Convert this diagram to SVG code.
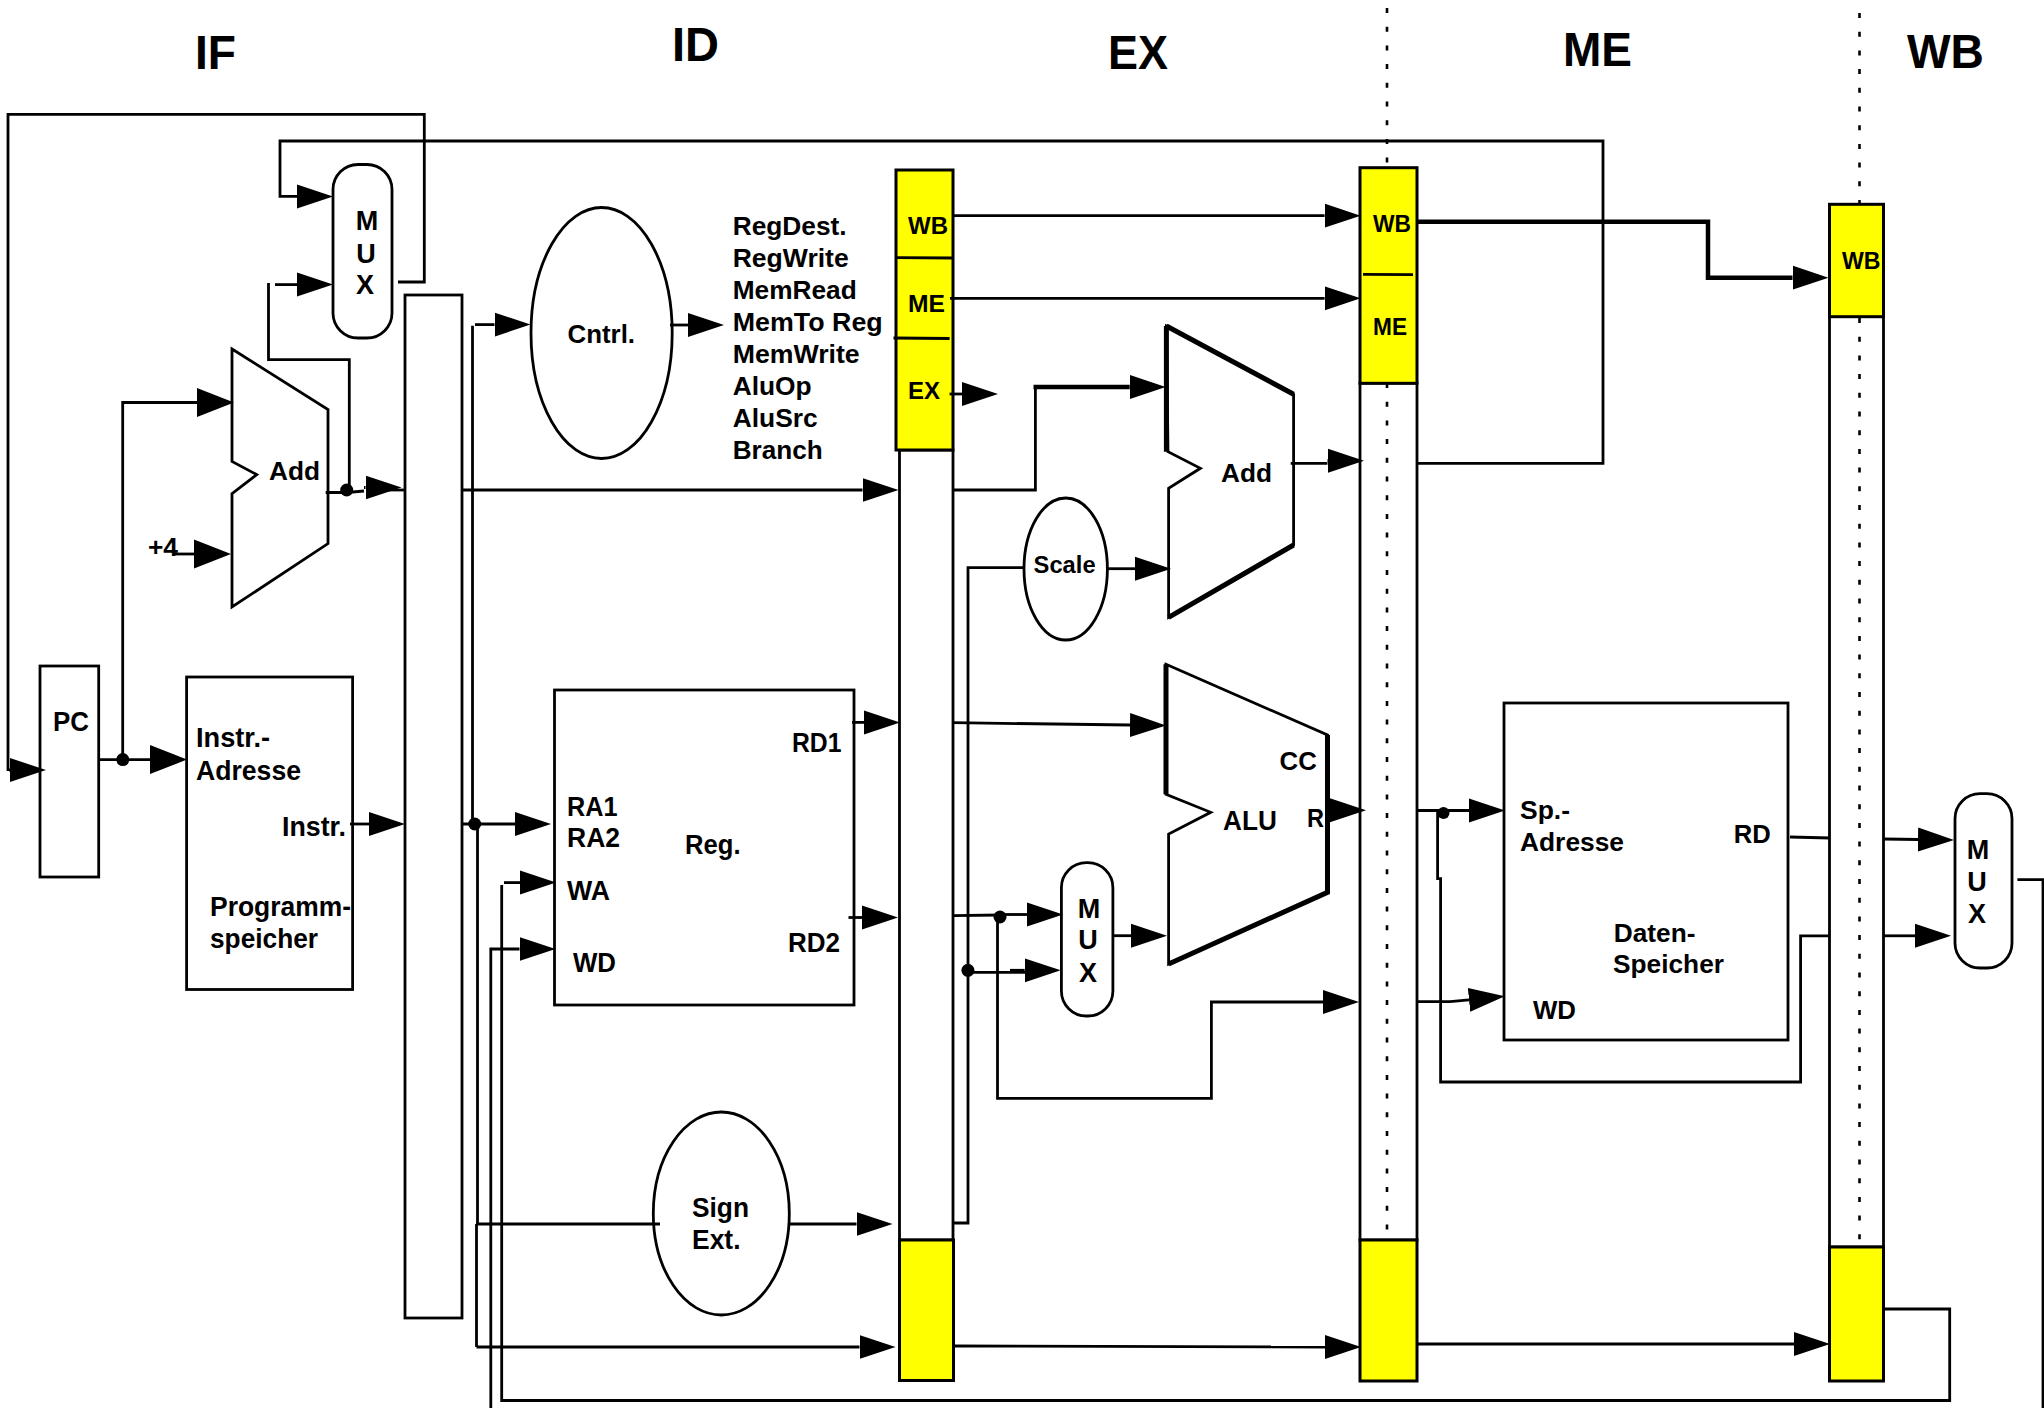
<svg xmlns="http://www.w3.org/2000/svg" width="2044" height="1408" viewBox="0 0 2044 1408">
<style>
.b{fill:#fff;stroke:#000;stroke-width:2.8}
.y{fill:#ff0;stroke:#000;stroke-width:3}
text{font-family:"Liberation Sans",Arial,sans-serif;font-weight:700;font-size:25px;fill:#000}
.h{font-size:47.500px}
.s{font-size:23px}
.t{font-size:27px}
#conn path,#conn line{fill:none;stroke:#000;stroke-width:2.8;stroke-linejoin:miter}
#conn .thick{stroke-width:4.5}
#conn .dot{stroke-width:2.6;stroke-dasharray:5 13.7}
#conn .a{marker-end:url(#ah)}
#conn .A{marker-end:url(#AH)}
#conn circle{fill:#000}
.edge{fill:none;stroke:#000;stroke-width:5}
</style>
<defs>
<marker id="ah" markerUnits="userSpaceOnUse" markerWidth="38" markerHeight="26" refX="0" refY="13" orient="auto"><path d="M0,1 L36,13 L0,25z" fill="#000"/></marker>
<marker id="AH" markerUnits="userSpaceOnUse" markerWidth="39" markerHeight="32" refX="0" refY="16" orient="auto"><path d="M0,1.500 L37,16 L0,30.500z" fill="#000"/></marker>
</defs>
<rect width="2044" height="1408" fill="#fff"/>

<g id="headers">
<text class="h" x="195" y="69" textLength="41" lengthAdjust="spacingAndGlyphs">IF</text>
<text class="h" x="672" y="61" textLength="47" lengthAdjust="spacingAndGlyphs">ID</text>
<text class="h" x="1108" y="69" textLength="60" lengthAdjust="spacingAndGlyphs">EX</text>
<text class="h" x="1563" y="66" textLength="69" lengthAdjust="spacingAndGlyphs">ME</text>
<text class="h" x="1907" y="68" textLength="77" lengthAdjust="spacingAndGlyphs">WB</text>
</g>

<g id="pc"><rect class="b" x="40" y="666" width="58.700" height="211"/>
<text class="t" x="53" y="730.500" textLength="36" lengthAdjust="spacingAndGlyphs">PC</text></g>

<g id="program-memory"><rect class="b" x="186.600" y="677" width="166" height="312.500"/>
<text class="t" x="196" y="746.500" textLength="74" lengthAdjust="spacingAndGlyphs">Instr.-</text>
<text class="t" x="196" y="779.500" textLength="105" lengthAdjust="spacingAndGlyphs">Adresse</text>
<text class="t" x="282" y="835.500" textLength="64" lengthAdjust="spacingAndGlyphs">Instr.</text>
<text class="t" x="210" y="915.500" textLength="141" lengthAdjust="spacingAndGlyphs">Programm-</text>
<text class="t" x="210" y="947.500" textLength="108" lengthAdjust="spacingAndGlyphs">speicher</text></g>

<g id="adder-if"><polygon class="b" points="232,349 328,409.600 328,543.600 232,607 232,493.600 256.700,474.600 232,461.400"/>
<text x="269" y="480" textLength="51" lengthAdjust="spacingAndGlyphs">Add</text></g>
<g id="plus4"><text x="148" y="556" textLength="30" lengthAdjust="spacingAndGlyphs">+4</text></g>

<g id="mux-pc"><rect class="b" x="333" y="164.500" width="59" height="173.500" rx="25" ry="25"/>
<text class="t" x="367" y="230" text-anchor="middle">M</text><text class="t" x="366" y="262.500" text-anchor="middle">U</text><text class="t" x="365" y="294" text-anchor="middle">X</text></g>

<g id="if-id"><rect class="b" x="405" y="295" width="57" height="1023"/></g>

<g id="control"><ellipse class="b" cx="601.600" cy="333" rx="70.600" ry="125.500"/>
<text x="567.500" y="342.500" textLength="67.500" lengthAdjust="spacingAndGlyphs">Cntrl.</text></g>
<g id="control-signals">
<text x="732.700" y="235" textLength="114" lengthAdjust="spacingAndGlyphs">RegDest.</text>
<text x="732.700" y="266.700" textLength="116" lengthAdjust="spacingAndGlyphs">RegWrite</text>
<text x="732.700" y="298.700" textLength="124" lengthAdjust="spacingAndGlyphs">MemRead</text>
<text x="732.700" y="330.700" textLength="150" lengthAdjust="spacingAndGlyphs">MemTo Reg</text>
<text x="732.700" y="362.800" textLength="127" lengthAdjust="spacingAndGlyphs">MemWrite</text>
<text x="732.700" y="394.800" textLength="79" lengthAdjust="spacingAndGlyphs">AluOp</text>
<text x="732.700" y="426.800" textLength="85" lengthAdjust="spacingAndGlyphs">AluSrc</text>
<text x="732.700" y="458.800" textLength="90" lengthAdjust="spacingAndGlyphs">Branch</text></g>

<g id="registers"><rect class="b" x="554.500" y="690" width="299.500" height="315"/>
<text class="t" x="567" y="816" textLength="50.500" lengthAdjust="spacingAndGlyphs">RA1</text>
<text class="t" x="567" y="846.500" textLength="53" lengthAdjust="spacingAndGlyphs">RA2</text>
<text class="t" x="685" y="853.500" textLength="55.500" lengthAdjust="spacingAndGlyphs">Reg.</text>
<text class="t" x="567" y="899.500" textLength="43" lengthAdjust="spacingAndGlyphs">WA</text>
<text class="t" x="573" y="971.500" textLength="43" lengthAdjust="spacingAndGlyphs">WD</text>
<text class="t" x="792" y="752" textLength="49.500" lengthAdjust="spacingAndGlyphs">RD1</text>
<text class="t" x="788" y="952" textLength="52" lengthAdjust="spacingAndGlyphs">RD2</text></g>

<g id="sign-ext"><ellipse class="b" cx="721.300" cy="1213.500" rx="68" ry="101.500"/>
<text class="t" x="692" y="1217" textLength="57" lengthAdjust="spacingAndGlyphs">Sign</text>
<text class="t" x="692" y="1249" textLength="48.500" lengthAdjust="spacingAndGlyphs">Ext.</text></g>

<g id="id-ex"><rect class="b" x="899.500" y="450" width="53.500" height="790"/>
<rect class="y" x="896" y="170" width="57" height="280"/>
<rect class="y" x="899.500" y="1240" width="54" height="140.500"/>
<text class="s" x="908" y="234" textLength="40" lengthAdjust="spacingAndGlyphs">WB</text>
<text class="s" x="908" y="311.700" textLength="37" lengthAdjust="spacingAndGlyphs">ME</text>
<text class="s" x="908" y="399.300" textLength="32" lengthAdjust="spacingAndGlyphs">EX</text></g>

<g id="adder-ex"><polygon class="b" points="1166.400,326 1293.600,394.300 1293.600,545 1168.600,617.300 1168.600,488.300 1200.400,468.300 1168,451.700"/>
<path class="edge" d="M1166.400,326 V451.700 M1166.400,326 L1293.600,394.300 M1293.600,545 L1168.600,617.300"/>
<text x="1221" y="482" textLength="51" lengthAdjust="spacingAndGlyphs">Add</text></g>

<g id="scale"><ellipse class="b" cx="1065.700" cy="569" rx="41.700" ry="71"/>
<text class="s" x="1033.600" y="573.300" textLength="62" lengthAdjust="spacingAndGlyphs">Scale</text></g>

<g id="alu"><polygon class="b" points="1166,664.300 1327.500,735 1327.500,892.300 1168.600,964 1168.600,834 1210.700,812.300 1166,794.300"/>
<path class="edge" d="M1166,664.300 V794.300 M1327.500,735 V892.300 L1168.600,964"/>
<text x="1279.600" y="770.300" textLength="37.200" lengthAdjust="spacingAndGlyphs">CC</text>
<text class="t" x="1223" y="830" textLength="53.800" lengthAdjust="spacingAndGlyphs">ALU</text>
<text x="1307" y="827" textLength="17" lengthAdjust="spacingAndGlyphs">R</text></g>

<g id="mux-alu"><rect class="b" x="1061.400" y="862.700" width="51.500" height="153.300" rx="25" ry="25"/>
<text class="t" x="1089" y="917.700" text-anchor="middle">M</text><text class="t" x="1088" y="949" text-anchor="middle">U</text><text class="t" x="1088" y="981.700" text-anchor="middle">X</text></g>

<g id="ex-me"><rect class="b" x="1360" y="383" width="57" height="857"/></g>

<g id="data-memory"><rect class="b" x="1504" y="703" width="284" height="337"/>
<text x="1520" y="819" textLength="50" lengthAdjust="spacingAndGlyphs">Sp.-</text>
<text x="1520" y="851" textLength="104" lengthAdjust="spacingAndGlyphs">Adresse</text>
<text x="1733.700" y="842.500" textLength="37" lengthAdjust="spacingAndGlyphs">RD</text>
<text x="1613.800" y="942" textLength="81.700" lengthAdjust="spacingAndGlyphs">Daten-</text>
<text x="1613" y="973.400" textLength="111" lengthAdjust="spacingAndGlyphs">Speicher</text>
<text x="1533" y="1019" textLength="43" lengthAdjust="spacingAndGlyphs">WD</text></g>

<g id="me-wb"><rect class="b" x="1829.500" y="316" width="54" height="931"/></g>

<g id="mux-wb"><rect class="b" x="1955" y="793.700" width="57" height="174.300" rx="25" ry="25"/>
<text class="t" x="1978" y="858.700" text-anchor="middle">M</text><text class="t" x="1977" y="891" text-anchor="middle">U</text><text class="t" x="1977" y="922.800" text-anchor="middle">X</text></g>

<g id="conn">
<path class="dot" d="M1387,8 V168 M1387,383 V1240"/>
<path class="dot" d="M1859.500,13 V204 M1859.500,318 V1247"/>

<path d="M398,282 H424.300 V114.300 H8 V771"/>
<path class="a" d="M9,770 H10"/>
<path class="a" d="M1417,463.300 H1603 V141 H280 V196.400 H297"/>
<path class="a" d="M275,284.600 H297"/>
<path d="M268.500,283 V359.600 H349.300 V490"/>
<path class="A" d="M98.700,759.600 H150"/>
<path class="A" d="M122.700,759.600 V402.500 H197"/>
<path class="A" d="M173,554 H194"/>
<path d="M325.700,492.500 H347 L364,491"/>
<path class="a" d="M364,487.500 H365.500"/>
<path d="M385,490 H405"/>
<path class="a" d="M475,324.600 H494.500"/>
<path d="M472.500,325.700 V824 M477.500,824 V1224 M476.500,1224 V1347"/>
<path class="a" d="M350,824 H369"/>
<path class="a" d="M462,824 H515"/>
<path class="a" d="M462,490 H862.500"/>
<path class="a" d="M504,882.600 H520"/>
<path d="M501.700,885 V1400.500 H1949.700 V1309 H1884"/>
<path class="a" d="M490.800,1408 V949 H519.500"/>
<path class="a" d="M852,722.400 H864"/>
<path class="a" d="M848.500,917.500 H862"/>
<path d="M476.500,1224 H660"/>
<path class="a" d="M789,1224 H856.500"/>
<path class="a" d="M476.500,1347 H859.500"/>
<path class="a" d="M670,325 H688"/>

<line x1="896" y1="257.700" x2="953" y2="258"/>
<line x1="893.500" y1="338" x2="949.600" y2="338.500"/>
<path class="a" d="M953,215.700 H1324.600"/>
<path class="a" d="M950,298.300 H1324.600"/>
<path class="a" d="M949.600,394 H962"/>
<path d="M953,490 H1035.400 V388"/>
<path class="thick a" d="M1033.500,387 H1129.700"/>
<path d="M1290.700,463.300 H1327.500"/>
<path class="a" d="M1327.500,460.700 H1328"/>
<path d="M953,1223 H968 V567.700 H1024"/>
<path class="a" d="M1107.500,568.700 H1135"/>
<path class="a" d="M953,722.700 L1130,725"/>
<path class="a" d="M1326,810.300 H1330"/>
<path d="M953,915.700 L1000,915"/>
<path class="a" d="M1000,914.500 H1027"/>
<path d="M968,972.300 H1026"/>
<path class="a" d="M1010,970.300 H1024.700"/>
<path class="a" d="M1113,935.700 H1131"/>
<path class="a" d="M997.500,917 V1098.300 H1211.400 V1002 H1323"/>
<path class="a" d="M953.500,1346 L1325,1347"/>

<path class="thick a" d="M1417,221.700 H1708 V277.700 H1792.500"/>

<path class="a" d="M1417,810.500 H1469"/>
<path d="M1437.600,812 V878.700 H1440.600 V1082 H1800.600 V935.800 H1830"/>
<path d="M1417,1001.700 L1450,1001.700"/>
<path class="a" d="M1450,1001.700 L1469,999.800"/>
<path d="M1790,837 L1830,838"/>
<path class="a" d="M1884,839 L1918,839.500"/>
<path class="a" d="M1884,935.800 H1915"/>
<path class="a" d="M1414,1344 H1794"/>
<path d="M2017.400,879.600 H2043 V1408"/>

<circle cx="346.700" cy="490" r="6.500"/>
<circle cx="122.800" cy="759.600" r="6.500"/>
<circle cx="474.700" cy="824" r="6.500"/>
<circle cx="1000" cy="917" r="6.500"/>
<circle cx="967.900" cy="970.300" r="6.500"/>
<circle cx="1443.500" cy="813" r="6"/>
</g>

<g id="ex-me-yellow">
<rect class="y" x="1360" y="167.700" width="57" height="215.600"/>
<rect class="y" x="1360" y="1240" width="57" height="141"/>
<line x1="1363" y1="274.300" x2="1413" y2="274.700" stroke="#000" stroke-width="2.800"/>
<text class="s" x="1373" y="231.700" textLength="38" lengthAdjust="spacingAndGlyphs">WB</text>
<text class="s" x="1373" y="335" textLength="34" lengthAdjust="spacingAndGlyphs">ME</text>
</g>
<g id="me-wb-yellow">
<rect class="y" x="1829.500" y="204.300" width="54" height="112.400"/>
<rect class="y" x="1829.500" y="1247" width="54" height="134"/>
<text class="s" x="1842" y="269.300" textLength="38.500" lengthAdjust="spacingAndGlyphs">WB</text>
</g>
</svg>
